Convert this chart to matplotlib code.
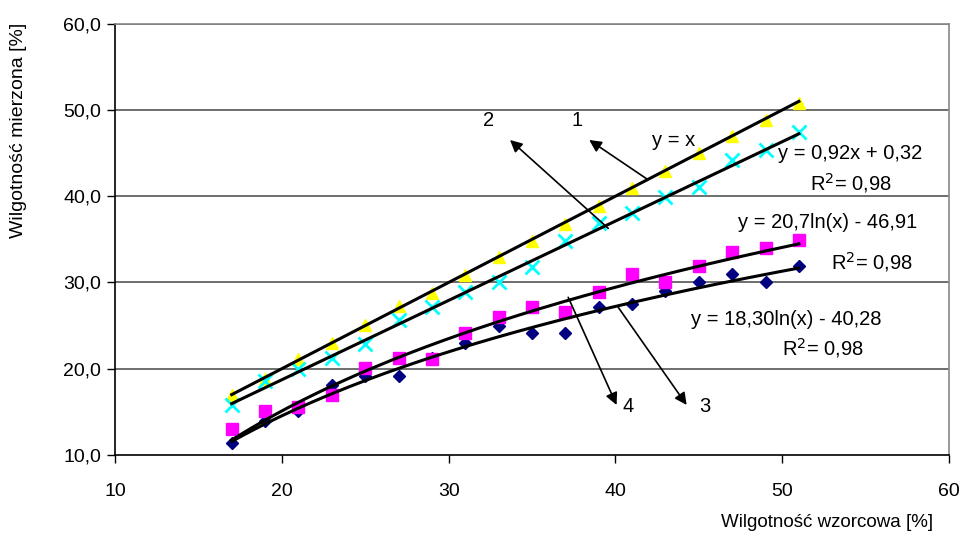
import numpy as np
import matplotlib
matplotlib.use("Agg")
import matplotlib.pyplot as plt

plt.rcParams['font.family'] = ['Liberation Sans', 'DejaVu Sans']

# reference moisture [%]
x_ref = [17, 19, 21, 23, 25, 27, 29, 31, 33, 35, 37, 39, 41, 43, 45, 47, 49, 51]

# measured moisture, one list per series
s1_tri = [16.9, 18.8, 21.1, 23.0, 25.1, 27.3, 28.8, 30.9, 33.0, 34.8, 36.8, 38.9,
          41.0, 42.9, 45.0, 47.0, 48.8, 50.8]
s2_cross = [15.8, 18.6, 20.0, 21.2, 22.9, 25.7, 27.1, 28.9, 30.0, 31.8, 34.8, 36.9,
            38.0, 39.9, 41.1, 44.2, 45.4, 47.4]
s3_square = [13.0, 15.1, 15.6, 16.9, 20.1, 21.2, 21.1, 24.2, 26.0, 27.1, 26.6, 28.9,
             31.0, 30.0, 31.9, 33.5, 34.0, 34.9]
s4_diamond = [11.4, 13.9, 15.1, 18.1, 19.1, 19.1, 21.2, 23.0, 25.0, 24.1, 24.1, 27.1,
              27.5, 29.0, 30.0, 31.0, 30.0, 31.9]

# trend line coefficients (from the equations on the chart)
lin_a, lin_b = 0.92, 0.32
log3_a, log3_b = 20.7, -46.91
log4_a, log4_b = 18.30, -40.28

fig = plt.figure(figsize=(9.59, 5.38), dpi=100)
ax = fig.add_axes([0.1199, 0.1543, 0.8697, 0.8016])

ax.set_xlim(10, 60)
ax.set_ylim(10, 60)
ax.set_xticks([10, 20, 30, 40, 50, 60])
ax.set_yticks([10, 20, 30, 40, 50, 60])
ax.set_yticklabels([f"{v:.1f}".replace(".", ",") for v in ax.get_yticks()])
ax.tick_params(axis='both', direction='out', length=6, width=1, labelsize=14, color='black')
ax.tick_params(axis='x', pad=14)
ax.tick_params(axis='y', pad=4)

for y in [20, 30, 40, 50, 60]:
    ax.axhline(y, color='#555555', lw=1.2, zorder=1)

for side in ['top', 'right']:
    ax.spines[side].set_color('#888888')
    ax.spines[side].set_linewidth(1.2)
for side in ['left', 'bottom']:
    ax.spines[side].set_color('black')
    ax.spines[side].set_linewidth(1.2)

ax.plot(x_ref, s4_diamond, 'D', color='#000080', ms=6.5, mec='#000080', zorder=3)
ax.plot(x_ref, s3_square, 's', color='#FF00FF', ms=8, mec='#FF00FF', zorder=3)
ax.plot(x_ref, s1_tri, '^', color='#FFFF00', ms=9, mec='#FFFF00', zorder=3)
ax.plot(x_ref, s2_cross, 'x', color='#00FFFF', ms=10, mew=2, zorder=3)

xs = np.linspace(x_ref[0], x_ref[-1], 200)
ax.plot(xs, xs, color='black', lw=2.2, zorder=4)
ax.plot(xs, lin_a * xs + lin_b, color='black', lw=2.2, zorder=4)
ax.plot(xs, log3_a * np.log(xs) + log3_b, color='black', lw=2.2, zorder=4)
ax.plot(xs, log4_a * np.log(xs) + log4_b, color='black', lw=2.2, zorder=4)

arrow = dict(arrowstyle='-|>', color='black', lw=1.2, mutation_scale=18, shrinkA=0, shrinkB=0)
ax.annotate('', xy=(38.43, 46.52), xytext=(41.91, 41.97), arrowprops=arrow, zorder=5)
ax.annotate('', xy=(33.68, 46.52), xytext=(39.57, 36.28), arrowprops=arrow, zorder=5)
ax.annotate('', xy=(40.07, 15.8), xytext=(37.17, 28.28), arrowprops=arrow, zorder=5)
ax.annotate('', xy=(44.27, 15.8), xytext=(40.17, 27.12), arrowprops=arrow, zorder=5)

txt = dict(fontsize=14.5, ha='center', va='center', zorder=6)
ax.text(32.38, 48.76, '2', **txt)
ax.text(37.68, 48.76, '1', **txt)
ax.text(40.75, 15.6, '4', **txt)
ax.text(45.36, 15.6, '3', **txt)
ax.text(43.47, 46.44, 'y = x', **txt)
ax.text(54.1, 44.98, 'y = 0,92x + 0,32', **txt)
ax.text(54.1, 41.5, 'R$^2$= 0,98', **txt)
ax.text(52.75, 36.93, 'y = 20,7ln(x) - 46,91', **txt)
ax.text(55.35, 32.34, 'R$^2$= 0,98', **txt)
ax.text(50.26, 25.73, 'y = 18,30ln(x) - 40,28', **txt)
ax.text(52.44, 22.41, 'R$^2$= 0,98', **txt)

fig.text(0.862, 0.028, 'Wilgotność wzorcowa [%]', fontsize=13.5, ha='center', va='center')
fig.text(0.019, 0.758, 'Wilgotność mierzona [%]', fontsize=14, ha='center', va='center',
         rotation=90)

fig.savefig('out.png', dpi=100)
